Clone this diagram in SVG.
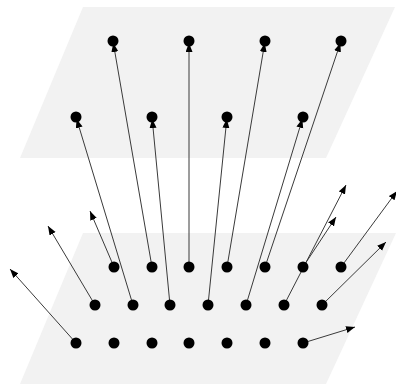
<svg xmlns="http://www.w3.org/2000/svg" width="396" height="385" viewBox="0 0 396 385">
  <style>
    .plane { fill: #f2f2f2; }
    .vec { stroke: #3a3a3a; stroke-width: 1; fill: none; marker-end: url(#head); }
    .dot { fill: #000; }
  </style>
  <defs>
    <marker id="head" markerUnits="userSpaceOnUse" markerWidth="10" markerHeight="8" refX="9" refY="3.5" orient="auto">
      <path d="M0,0 L9,3.5 L0,7 z" fill="#000"/>
    </marker>
  </defs>

  <!-- two parallel sheets -->
  <g id="planes">
    <polygon class="plane" points="83,7 395,7 326,158 20,158"/>
    <polygon class="plane" points="83,233 396,233 326,384 20,384"/>
  </g>

  <!-- displacement vectors -->
  <g id="connectors">
    <!-- into the upper sheet -->
    <line class="vec" x1="152" y1="267" x2="113.3" y2="43"/>
    <line class="vec" x1="189" y1="267" x2="189" y2="43"/>
    <line class="vec" x1="227" y1="267" x2="264.7" y2="43"/>
    <line class="vec" x1="265" y1="267" x2="340.4" y2="42.9"/>
    <line class="vec" x1="133" y1="305" x2="76.6" y2="118.9"/>
    <line class="vec" x1="170" y1="305" x2="152.2" y2="119"/>
    <line class="vec" x1="208" y1="305" x2="226.8" y2="119"/>
    <line class="vec" x1="246" y1="305" x2="302.4" y2="118.9"/>
    <!-- free vectors -->
    <line class="vec" x1="114" y1="267" x2="90" y2="211"/>
    <line class="vec" x1="95" y1="305" x2="48" y2="226"/>
    <line class="vec" x1="76" y1="343" x2="10" y2="269"/>
    <line class="vec" x1="303" y1="267" x2="336" y2="217"/>
    <line class="vec" x1="284" y1="305" x2="346" y2="185"/>
    <line class="vec" x1="341" y1="267" x2="397" y2="191"/>
    <line class="vec" x1="322" y1="305" x2="386" y2="242"/>
    <line class="vec" x1="303" y1="343" x2="355" y2="327"/>
  </g>

  <!-- upper sheet points -->
  <g id="upper">
    <g id="u1"><circle class="dot" cx="113" cy="41" r="5.5"/></g>
    <g id="u2"><circle class="dot" cx="189" cy="41" r="5.5"/></g>
    <g id="u3"><circle class="dot" cx="265" cy="41" r="5.5"/></g>
    <g id="u4"><circle class="dot" cx="341" cy="41" r="5.5"/></g>
    <g id="u5"><circle class="dot" cx="76" cy="117" r="5.5"/></g>
    <g id="u6"><circle class="dot" cx="152" cy="117" r="5.5"/></g>
    <g id="u7"><circle class="dot" cx="227" cy="117" r="5.5"/></g>
    <g id="u8"><circle class="dot" cx="303" cy="117" r="5.5"/></g>
  </g>

  <!-- lower sheet points -->
  <g id="lower">
    <g id="a1"><circle class="dot" cx="114" cy="267" r="5.5"/></g>
    <g id="a2"><circle class="dot" cx="152" cy="267" r="5.5"/></g>
    <g id="a3"><circle class="dot" cx="189" cy="267" r="5.5"/></g>
    <g id="a4"><circle class="dot" cx="227" cy="267" r="5.5"/></g>
    <g id="a5"><circle class="dot" cx="265" cy="267" r="5.5"/></g>
    <g id="a6"><circle class="dot" cx="303" cy="267" r="5.5"/></g>
    <g id="a7"><circle class="dot" cx="341" cy="267" r="5.5"/></g>

    <g id="b1"><circle class="dot" cx="95" cy="305" r="5.5"/></g>
    <g id="b2"><circle class="dot" cx="133" cy="305" r="5.5"/></g>
    <g id="b3"><circle class="dot" cx="170" cy="305" r="5.5"/></g>
    <g id="b4"><circle class="dot" cx="208" cy="305" r="5.5"/></g>
    <g id="b5"><circle class="dot" cx="246" cy="305" r="5.5"/></g>
    <g id="b6"><circle class="dot" cx="284" cy="305" r="5.5"/></g>
    <g id="b7"><circle class="dot" cx="322" cy="305" r="5.5"/></g>

    <g id="c1"><circle class="dot" cx="76" cy="343" r="5.5"/></g>
    <g id="c2"><circle class="dot" cx="114" cy="343" r="5.5"/></g>
    <g id="c3"><circle class="dot" cx="152" cy="343" r="5.5"/></g>
    <g id="c4"><circle class="dot" cx="189" cy="343" r="5.5"/></g>
    <g id="c5"><circle class="dot" cx="227" cy="343" r="5.5"/></g>
    <g id="c6"><circle class="dot" cx="265" cy="343" r="5.5"/></g>
    <g id="c7"><circle class="dot" cx="303" cy="343" r="5.5"/></g>
  </g>
</svg>
